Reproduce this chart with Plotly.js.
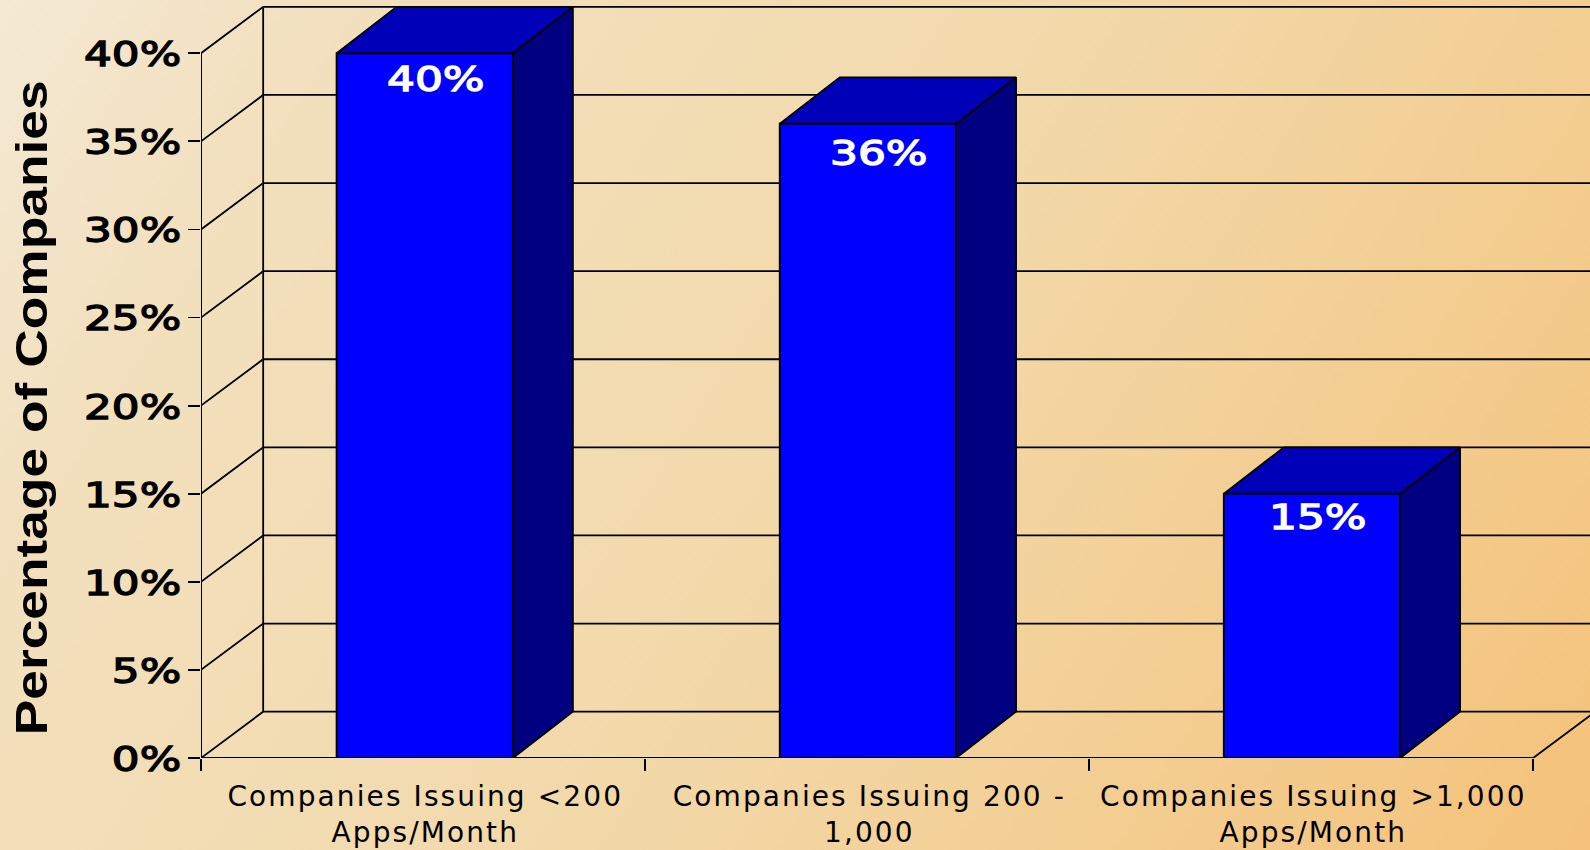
<!DOCTYPE html>
<html><head><meta charset="utf-8">
<script src="https://cdn.plot.ly/plotly-3.0.1.min.js"></script>
<style>
html,body{margin:0;padding:0;width:1590px;height:850px;overflow:hidden;
background:linear-gradient(122deg,#f4e9d4 0%,#f2e0be 16%,#f2d9aa 52%,#f4c27a 100%);}
</style></head><body><div id="chart" style="width:1590px;height:850px"></div>
<script>
const categories = ["Companies Issuing &lt;200<br>Apps/Month","Companies Issuing 200 -<br>1,000","Companies Issuing &gt;1,000<br>Apps/Month"];
const catPos = [0,1,2];
const barPos = [-0.001,0.997,1.997];
const values = [40,36,15];
const yTicks = [0,5,10,15,20,25,30,35,40];
const yTickText = ["0%","5%","10%","15%","20%","25%","30%","35%","40%"];
const boundaries = [-0.505,0.495,1.495,2.495];
const wallDepthX = 0.14, barDepthX = 0.135, depthY = 2.63, barW = 0.397;
const xRange = [-0.505, 2.623], yRange = [0, 43.02];
const labelDx = [0.026,0.025,0.014], labelShift = [-26,-29,-23];

const gx=[], gy=[];
yTicks.forEach(t=>{
  gx.push(boundaries[0], boundaries[0]+wallDepthX, xRange[1]+0.2, null);
  gy.push(t, t+depthY, t+depthY, null);
});
gx.push(boundaries[0]+wallDepthX,boundaries[0]+wallDepthX,null, boundaries[3],boundaries[3]+wallDepthX);
gy.push(depthY,40+depthY,null, 0,depthY);

const sx=[],sy=[],tx=[],ty=[];
barPos.forEach((c,i)=>{
  const r=c+barW/2,l=c-barW/2,v=values[i];
  sx.push(r,r+barDepthX,r+barDepthX,r,r,null); sy.push(0,depthY,v+depthY,v,0,null);
  tx.push(l,l+barDepthX,r+barDepthX,r,l,null); ty.push(v,v+depthY,v+depthY,v,v,null);
});
const ln={color:'#000',width:1.8};
const traces=[
 {type:'scatter',mode:'lines',x:gx,y:gy,xaxis:'x',yaxis:'y',line:ln,hoverinfo:'skip'},
 {type:'bar',x:barPos,y:values,width:barW,xaxis:'x2',yaxis:'y2',marker:{color:'#0000FF',line:{color:'#000',width:2}},hoverinfo:'skip'},
 {type:'scatter',mode:'lines',x:sx,y:sy,xaxis:'x2',yaxis:'y2',fill:'toself',fillcolor:'#000080',line:ln,hoverinfo:'skip'},
 {type:'scatter',mode:'lines',x:tx,y:ty,xaxis:'x2',yaxis:'y2',fill:'toself',fillcolor:'#0000B8',line:ln,hoverinfo:'skip'},
 {type:'scatter',mode:'lines',x:[boundaries[0],boundaries[0],null,boundaries[0],boundaries[3]],y:[40,0,null,0,0],xaxis:'x2',yaxis:'y2',cliponaxis:false,line:{color:'#000',width:2},hoverinfo:'skip'}
];
const annotations=barPos.map((c,i)=>({xref:'x2',yref:'y2',x:c+labelDx[i],y:values[i],yshift:labelShift[i],text:values[i]+'%',showarrow:false,
  font:{family:'DejaVu Sans',size:34,color:'#fff'},xanchor:'center',yanchor:'middle'}));
annotations.push({xref:'paper',yref:'paper',x:-0.1225,y:0.4615,xanchor:'center',yanchor:'middle',textangle:-90,showarrow:false,
  text:'Percentage of Companies',font:{family:'Liberation Sans',size:44,color:'#000',weight:'bold'}});
const layout={
 width:1590,height:850,margin:{l:201,r:0,t:0,b:92},showlegend:false,
 paper_bgcolor:'rgba(0,0,0,0)',plot_bgcolor:'rgba(0,0,0,0)',barmode:'overlay',
 xaxis:{type:'linear',range:xRange,tickmode:'array',tickvals:catPos,ticktext:categories,ticks:'',showgrid:false,zeroline:false,showline:false,
  ticklabelstandoff:19,tickfont:{family:'DejaVu Sans',size:28,color:'#000'},tickangle:0,automargin:false},
 yaxis:{type:'linear',range:yRange,tickmode:'array',tickvals:yTicks,ticktext:yTickText,ticks:'outside',ticklen:12,tickwidth:1.8,tickcolor:'#000',
  showgrid:false,zeroline:false,showline:false,ticklabelstandoff:0,tickfont:{family:'DejaVu Sans',size:34,color:'#000'},automargin:false},
 xaxis2:{type:'linear',overlaying:'x',anchor:'y2',range:xRange,tickmode:'array',tickvals:boundaries,ticktext:['','','',''],ticks:'outside',ticklen:12,tickwidth:1.8,tickcolor:'#000',showgrid:false,zeroline:false,showline:false},
 yaxis2:{type:'linear',overlaying:'y',anchor:'x2',range:yRange,showticklabels:false,ticks:'',showgrid:false,zeroline:false,showline:false},
 annotations
};
function stretch(el,k){
  const w=el.getComputedTextLength();
  el.setAttribute('textLength',w*k);
  el.setAttribute('lengthAdjust','spacingAndGlyphs');
}
function embolden(el,color){
  el.style.stroke=color; el.style.strokeWidth='1.3px'; el.style.paintOrder='stroke';
}
Plotly.newPlot('chart',traces,layout,{displayModeBar:false,staticPlot:true}).then(gd=>{
  gd.querySelectorAll('.ytick text').forEach(t=>{
    stretch(t,1.285); embolden(t,'#000');
    t.setAttribute('y',parseFloat(t.getAttribute('y'))+1);
  });
  gd.querySelectorAll('.xtick text').forEach(t=>{t.style.letterSpacing='2.1px';});
  gd.querySelectorAll('.annotation-text').forEach(t=>{
    if(t.textContent.startsWith('Percentage')){stretch(t,1.212);}
    else{stretch(t,1.29); embolden(t,'#fff');}
  });
});
</script></body></html>
